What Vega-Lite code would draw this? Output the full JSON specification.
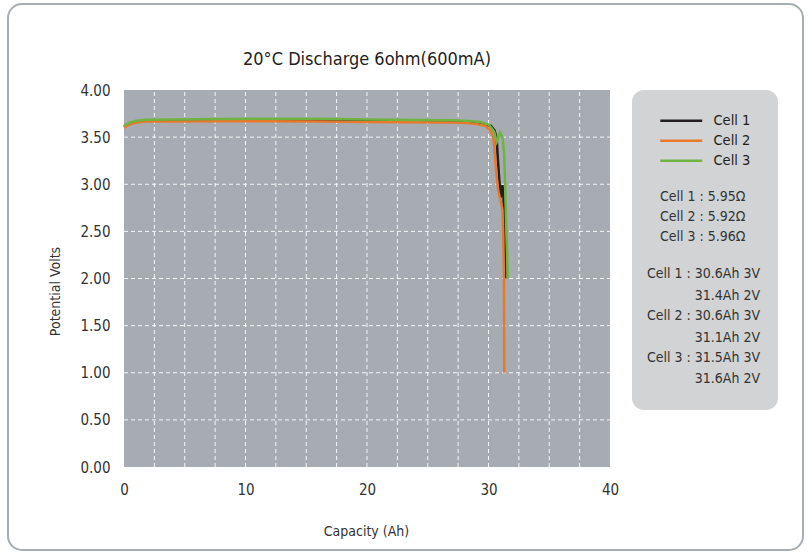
{
  "$schema": "https://vega.github.io/schema/vega-lite/v6.json",
  "width": 795,
  "height": 546,
  "autosize": {"type": "none"},
  "padding": {"left": 8, "top": 4, "right": 7, "bottom": 8},
  "background": "white",
  "config": {
    "font": "'DejaVu Sans Condensed', Roboto, sans-serif",
    "view": {"stroke": "#a7aeb2", "strokeWidth": 2, "cornerRadius": 14, "fill": "white"}
  },
  "datasets": {
    "plotArea": [{"x": 0, "x2": 40, "y": 0, "y2": 4}],
    "legendBox": [{"x": 41.81, "x2": 53.83, "y": 0.605, "y2": 4.0}],
    "vgrid": [{"g": 2.5}, {"g": 5}, {"g": 7.5}, {"g": 10}, {"g": 12.5}, {"g": 15}, {"g": 17.5}, {"g": 20}, {"g": 22.5}, {"g": 25}, {"g": 27.5}, {"g": 30}, {"g": 32.5}, {"g": 35}, {"g": 37.5}],
    "hgrid": [{"g": 0.5}, {"g": 1}, {"g": 1.5}, {"g": 2}, {"g": 2.5}, {"g": 3}, {"g": 3.5}],
    "curves": [
      {"cell": "Cell 1", "cap": 0, "v": 3.61},
      {"cell": "Cell 1", "cap": 0.4, "v": 3.64},
      {"cell": "Cell 1", "cap": 1, "v": 3.665},
      {"cell": "Cell 1", "cap": 1.8, "v": 3.675},
      {"cell": "Cell 1", "cap": 4, "v": 3.678},
      {"cell": "Cell 1", "cap": 8, "v": 3.682},
      {"cell": "Cell 1", "cap": 12, "v": 3.685},
      {"cell": "Cell 1", "cap": 16, "v": 3.685},
      {"cell": "Cell 1", "cap": 20, "v": 3.68},
      {"cell": "Cell 1", "cap": 24, "v": 3.675},
      {"cell": "Cell 1", "cap": 27, "v": 3.67},
      {"cell": "Cell 1", "cap": 28.3, "v": 3.665},
      {"cell": "Cell 1", "cap": 29.0, "v": 3.655},
      {"cell": "Cell 1", "cap": 29.6, "v": 3.64},
      {"cell": "Cell 1", "cap": 30.2, "v": 3.62},
      {"cell": "Cell 1", "cap": 30.5, "v": 3.57},
      {"cell": "Cell 1", "cap": 30.68, "v": 3.48},
      {"cell": "Cell 1", "cap": 30.74, "v": 3.33},
      {"cell": "Cell 1", "cap": 30.87, "v": 3.08},
      {"cell": "Cell 1", "cap": 31.0, "v": 2.86},
      {"cell": "Cell 1", "cap": 31.15, "v": 2.99},
      {"cell": "Cell 1", "cap": 31.22, "v": 2.9},
      {"cell": "Cell 1", "cap": 31.27, "v": 2.73},
      {"cell": "Cell 1", "cap": 31.33, "v": 2.37},
      {"cell": "Cell 1", "cap": 31.38, "v": 2.0},
      {"cell": "Cell 2", "cap": 0, "v": 3.6},
      {"cell": "Cell 2", "cap": 0.4, "v": 3.63},
      {"cell": "Cell 2", "cap": 1, "v": 3.655},
      {"cell": "Cell 2", "cap": 1.8, "v": 3.665},
      {"cell": "Cell 2", "cap": 4, "v": 3.667},
      {"cell": "Cell 2", "cap": 8, "v": 3.668},
      {"cell": "Cell 2", "cap": 12, "v": 3.668},
      {"cell": "Cell 2", "cap": 16, "v": 3.665},
      {"cell": "Cell 2", "cap": 20, "v": 3.66},
      {"cell": "Cell 2", "cap": 24, "v": 3.657},
      {"cell": "Cell 2", "cap": 27, "v": 3.655},
      {"cell": "Cell 2", "cap": 28.2, "v": 3.65},
      {"cell": "Cell 2", "cap": 29.0, "v": 3.64},
      {"cell": "Cell 2", "cap": 29.75, "v": 3.62},
      {"cell": "Cell 2", "cap": 30.2, "v": 3.56},
      {"cell": "Cell 2", "cap": 30.4, "v": 3.49},
      {"cell": "Cell 2", "cap": 30.5, "v": 3.35},
      {"cell": "Cell 2", "cap": 30.68, "v": 3.07},
      {"cell": "Cell 2", "cap": 30.8, "v": 2.93},
      {"cell": "Cell 2", "cap": 31.0, "v": 2.82},
      {"cell": "Cell 2", "cap": 31.15, "v": 2.73},
      {"cell": "Cell 2", "cap": 31.22, "v": 2.44},
      {"cell": "Cell 2", "cap": 31.27, "v": 2.0},
      {"cell": "Cell 2", "cap": 31.3, "v": 1.0},
      {"cell": "Cell 3", "cap": 0, "v": 3.62},
      {"cell": "Cell 3", "cap": 0.4, "v": 3.65},
      {"cell": "Cell 3", "cap": 1, "v": 3.675},
      {"cell": "Cell 3", "cap": 1.8, "v": 3.685},
      {"cell": "Cell 3", "cap": 4, "v": 3.688},
      {"cell": "Cell 3", "cap": 8, "v": 3.692},
      {"cell": "Cell 3", "cap": 12, "v": 3.695},
      {"cell": "Cell 3", "cap": 16, "v": 3.694},
      {"cell": "Cell 3", "cap": 20, "v": 3.688},
      {"cell": "Cell 3", "cap": 24, "v": 3.683},
      {"cell": "Cell 3", "cap": 27, "v": 3.678},
      {"cell": "Cell 3", "cap": 28.5, "v": 3.672},
      {"cell": "Cell 3", "cap": 29.3, "v": 3.66},
      {"cell": "Cell 3", "cap": 30.05, "v": 3.63},
      {"cell": "Cell 3", "cap": 30.46, "v": 3.56},
      {"cell": "Cell 3", "cap": 30.68, "v": 3.45},
      {"cell": "Cell 3", "cap": 30.8, "v": 3.49},
      {"cell": "Cell 3", "cap": 30.95, "v": 3.55},
      {"cell": "Cell 3", "cap": 31.15, "v": 3.5},
      {"cell": "Cell 3", "cap": 31.27, "v": 3.36},
      {"cell": "Cell 3", "cap": 31.35, "v": 3.08},
      {"cell": "Cell 3", "cap": 31.46, "v": 2.55},
      {"cell": "Cell 3", "cap": 31.6, "v": 2.0}
    ],
    "titleText": [{"x": 20, "y": 4.265, "text": "20°C Discharge 6ohm(600mA)"}],
    "notesCenter": [
      {"x": 47.63, "y": 2.868, "text": "Cell 1 : 5.95Ω"},
      {"x": 47.63, "y": 2.656, "text": "Cell 2 : 5.92Ω"},
      {"x": 47.63, "y": 2.443, "text": "Cell 3 : 5.96Ω"}
    ],
    "notesRight": [
      {"x": 52.35, "y": 2.048, "text": "Cell 1 : 30.6Ah 3V"},
      {"x": 52.35, "y": 1.814, "text": "31.4Ah 2V"},
      {"x": 52.35, "y": 1.597, "text": "Cell 2 : 30.6Ah 3V"},
      {"x": 52.35, "y": 1.37, "text": "31.1Ah 2V"},
      {"x": 52.35, "y": 1.158, "text": "Cell 3 : 31.5Ah 3V"},
      {"x": 52.35, "y": 0.931, "text": "31.6Ah 2V"}
    ]
  },
  "layer": [
    {
      "data": {"name": "plotArea"},
      "mark": {"type": "rect", "fill": "#a6acb1"},
      "encoding": {
        "x": {
          "field": "x", "type": "quantitative",
          "scale": {"domain": [-9.547, 55.885], "nice": false, "zero": false},
          "axis": {
            "values": [0, 10, 20, 30, 40], "offset": -83, "domain": false, "ticks": false, "tickSize": 0, "grid": false,
            "labelPadding": 15, "labelFontSize": 15, "labelColor": "#333333", "labelFlush": false,
            "title": "Capacity (Ah)", "titleFontSize": 14, "titleFontWeight": "normal", "titleColor": "#333333",
            "titleX": 358, "titleY": 68, "titleBaseline": "alphabetic", "titleAlign": "center", "titleAnchor": null
          }
        },
        "x2": {"field": "x2"},
        "y": {
          "field": "y", "type": "quantitative",
          "scale": {"domain": [-0.8806, 4.9125], "nice": false, "zero": false},
          "axis": {
            "values": [0, 0.5, 1, 1.5, 2, 2.5, 3, 3.5, 4], "format": ".2f", "offset": -116, "domain": false, "ticks": false, "tickSize": 0, "grid": false,
            "labelPadding": 14, "labelFontSize": 15, "labelColor": "#333333", "labelFlush": false,
            "title": "Potential Volts", "titleFontSize": 14, "titleFontWeight": "normal", "titleColor": "#333333",
            "titleX": -69, "titleY": 287, "titleBaseline": "middle", "titleAlign": "center", "titleAngle": -90
          }
        },
        "y2": {"field": "y2"}
      }
    },
    {
      "data": {"name": "legendBox"},
      "mark": {"type": "rect", "fill": "#d1d3d4", "cornerRadius": 12},
      "encoding": {
        "x": {"field": "x", "type": "quantitative"},
        "x2": {"field": "x2"},
        "y": {"field": "y", "type": "quantitative"},
        "y2": {"field": "y2"}
      }
    },
    {
      "data": {"name": "vgrid"},
      "mark": {"type": "rule", "stroke": "white", "strokeWidth": 1, "strokeDash": [4, 3], "opacity": 0.9},
      "encoding": {
        "x": {"field": "g", "type": "quantitative"},
        "y": {"datum": 0},
        "y2": {"datum": 4}
      }
    },
    {
      "data": {"name": "hgrid"},
      "mark": {"type": "rule", "stroke": "white", "strokeWidth": 1, "strokeDash": [4, 3], "opacity": 0.9},
      "encoding": {
        "y": {"field": "g", "type": "quantitative"},
        "x": {"datum": 0},
        "x2": {"datum": 40}
      }
    },
    {
      "data": {"name": "curves"},
      "mark": {"type": "line", "strokeWidth": 2.5, "interpolate": "linear"},
      "encoding": {
        "x": {"field": "cap", "type": "quantitative"},
        "y": {"field": "v", "type": "quantitative"},
        "color": {
          "field": "cell", "type": "nominal",
          "scale": {"domain": ["Cell 1", "Cell 2", "Cell 3"], "range": ["#231f20", "#e8782a", "#6fb443"]},
          "legend": {
            "orient": "none", "legendX": 666, "legendY": 109.5, "title": null, "padding": 0,
            "symbolType": "M-4,0H4", "symbolSize": 110, "symbolStrokeWidth": 2.5,
            "labelOffset": 25, "labelFontSize": 14.5, "labelColor": "#231f20",
            "rowPadding": 5
          }
        },
        "order": {"field": "cap", "type": "quantitative"}
      }
    },
    {
      "data": {"name": "titleText"},
      "mark": {"type": "text", "fontSize": 18, "align": "center", "baseline": "alphabetic", "color": "#231f20"},
      "encoding": {
        "x": {"field": "x", "type": "quantitative"},
        "y": {"field": "y", "type": "quantitative"},
        "text": {"field": "text"}
      }
    },
    {
      "data": {"name": "notesCenter"},
      "mark": {"type": "text", "fontSize": 14, "align": "center", "baseline": "middle", "color": "#333333"},
      "encoding": {
        "x": {"field": "x", "type": "quantitative"},
        "y": {"field": "y", "type": "quantitative"},
        "text": {"field": "text"}
      }
    },
    {
      "data": {"name": "notesRight"},
      "mark": {"type": "text", "fontSize": 14, "align": "right", "baseline": "middle", "color": "#333333"},
      "encoding": {
        "x": {"field": "x", "type": "quantitative"},
        "y": {"field": "y", "type": "quantitative"},
        "text": {"field": "text"}
      }
    }
  ]
}
